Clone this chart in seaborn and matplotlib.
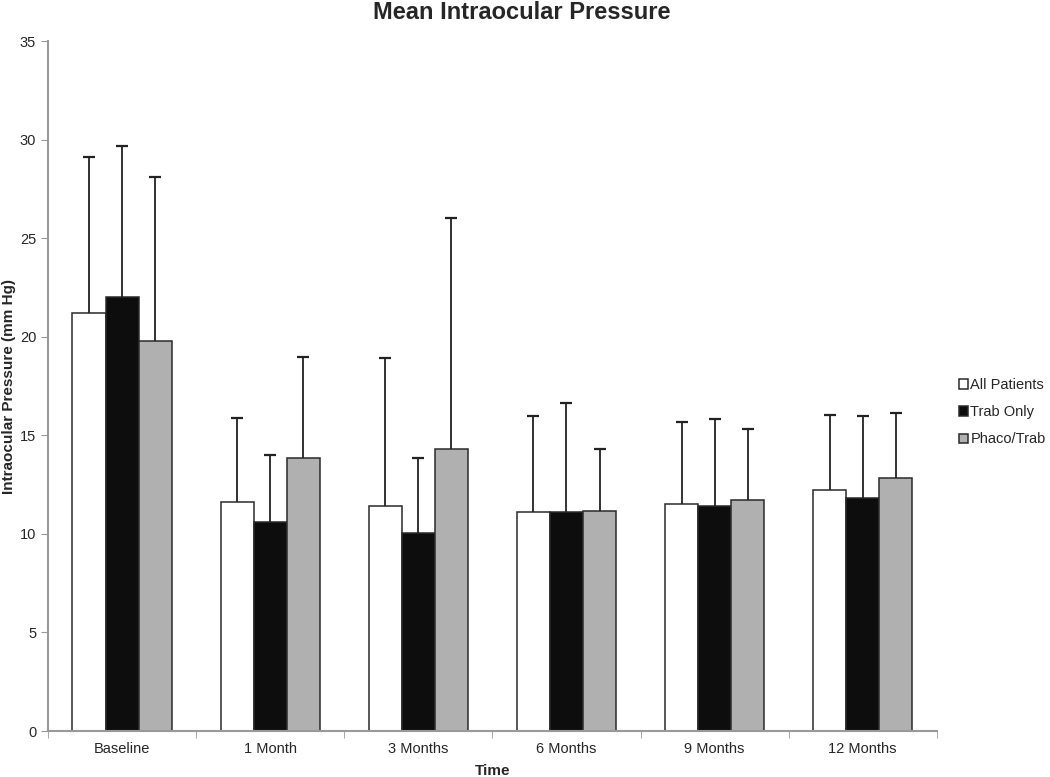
import numpy as np
import pandas as pd
import seaborn as sns
import matplotlib.pyplot as plt

times = ['Baseline', '1 Month', '3 Months', '6 Months', '9 Months', '12 Months']
groups = ['All Patients', 'Trab Only', 'Phaco/Trab']

all_mean = [21.2, 11.6, 11.4, 11.1, 11.5, 12.2]
trab_mean = [22.0, 10.6, 10.05, 11.1, 11.4, 11.8]
phaco_mean = [19.8, 13.85, 14.3, 11.15, 11.7, 12.85]

# top of the (upper-only) error bars
all_top = [29.1, 15.9, 18.9, 16.0, 15.65, 16.05]
trab_top = [29.7, 14.0, 13.85, 16.65, 15.85, 16.0]
phaco_top = [28.1, 18.95, 26.0, 14.3, 15.3, 16.15]

means = [all_mean, trab_mean, phaco_mean]
tops = [all_top, trab_top, phaco_top]

df = pd.DataFrame({
    'Time': np.tile(times, 3),
    'Group': np.repeat(groups, len(times)),
    'IOP': np.concatenate(means),
    'Top': np.concatenate(tops),
})

sns.set_style('white')
plt.rcParams['font.family'] = ['Liberation Sans', 'DejaVu Sans']

fig = plt.figure(figsize=(10.5, 7.77), dpi=100)
ax = fig.add_axes([0.0457, 0.0592, 0.8465, 0.888])

palette = {'All Patients': '#ffffff', 'Trab Only': '#0d0d0d', 'Phaco/Trab': '#b0b0b0'}
sns.barplot(data=df, x='Time', y='IOP', hue='Group', order=times, hue_order=groups,
            palette=palette, width=0.67, gap=0, edgecolor='#2a2a2a', linewidth=1.1,
            errorbar=None, ax=ax)

# one-sided error bars: stem from bar top up, cap only at the top
for container, top in zip(ax.containers, tops):
    for bar, t in zip(container, top):
        x = bar.get_x() + bar.get_width() / 2
        h = bar.get_height()
        ax.vlines(x, h, t, color='#222222', linewidth=1.3, zorder=1)
        ax.plot([x], [t], marker='_', markersize=8, mew=1.6, color='#222222', zorder=1)

ax.set_ylim(0, 35)
ax.set_xlim(-0.5, len(times) - 0.5)
ax.set_yticks(range(0, 36, 5))
ax.set_xticks(np.arange(-0.5, len(times)), minor=True)
ax.tick_params(axis='x', which='major', length=0, labelsize=10.5, pad=8)
ax.tick_params(axis='x', which='minor', length=5, color='#999999', direction='out', bottom=True)
ax.tick_params(axis='y', length=5, color='#999999', direction='out', left=True, labelsize=10.5)

for s in ['top', 'right']:
    ax.spines[s].set_visible(False)
for s in ['left', 'bottom']:
    ax.spines[s].set_color('#999999')
    ax.spines[s].set_linewidth(1.5)

ax.set_xlabel('Time', fontsize=11, fontweight='bold', labelpad=6)
ax.set_ylabel('Intraocular Pressure (mm Hg)', fontsize=11, fontweight='bold')
ax.yaxis.set_label_coords(-0.036, 0.5)
fig.text(0.497, 0.999, 'Mean Intraocular Pressure', fontsize=17, fontweight='bold',
         ha='center', va='top')

ax.legend(loc='center left', bbox_to_anchor=(1.01, 0.462), frameon=False, fontsize=10.5,
          handlelength=0.6, handleheight=0.6, handletextpad=0.2, labelspacing=0.9)

fig.savefig('out.png', dpi=100)
